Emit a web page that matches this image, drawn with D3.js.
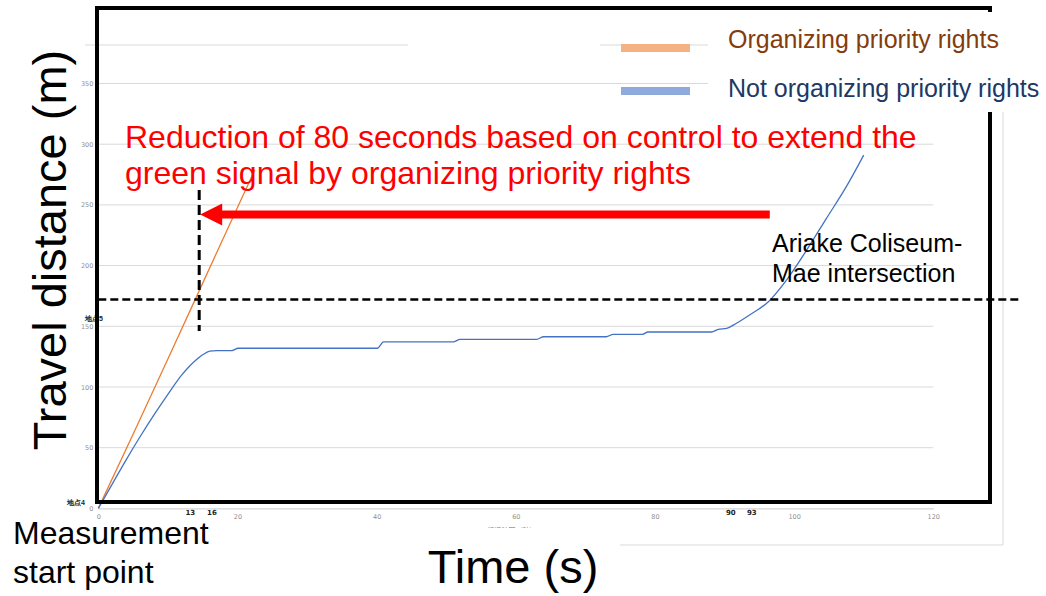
<!DOCTYPE html>
<html>
<head>
<meta charset="utf-8">
<script src="https://cdn.jsdelivr.net/npm/d3@7"></script>
<style>
  html, body { margin: 0; padding: 0; background: #fff; }
  svg { display: block; font-family: "Liberation Sans", Arial, sans-serif; }
</style>
</head>
<body>
<svg id="chart" width="1046" height="596"></svg>
<script>
// Elapsed time (s) vs. travel distance (m) for the two signal-control cases
const organizedSeries = [
  [0, 0], [5, 61], [10, 123], [14, 173], [18, 223], [22.5, 279]
];
const notOrganizedSeries = [
  [0, 0], [2, 20], [4, 40], [6, 59], [8, 77], [10, 94], [12, 110], [13, 116.5],
  [14, 122], [15, 126.5], [16, 129.5], [17, 130], [19.2, 130], [20.1, 131.9],
  [40.1, 131.9], [41.0, 137.1], [51.0, 137.1], [52.0, 139.3], [63.0, 139.3],
  [64.0, 141.4], [73.0, 141.4], [74.0, 143.4], [78.2, 143.4], [79.0, 145.3],
  [88.1, 145.3], [89.1, 147.5], [90.3, 148.3], [91.7, 152.5], [93.6, 159.3],
  [96.3, 170.3], [98.9, 188.1], [101.8, 212.8], [104.6, 238.5], [107.5, 265],
  [110, 291]
];
const xTicks = [0, 20, 40, 60, 80, 100, 120];
const yTicks = [0, 50, 100, 150, 200, 250, 300, 350];
const markedTimes = ["13", "16", "90", "93"];
const seriesNames = ["Organizing priority rights", "Not organizing priority rights"];
const intersectionDistance = 172;     // Ariake Coliseum-Mae intersection
const arrivalOrganized = 14.5;        // time the organized run passes the intersection
const arrivalNotOrganized = 96.5;     // start of the reduction arrow
const arrowDistance = 242;            // height at which the reduction arrow is drawn

const svg = d3.select("#chart");

const x = d3.scaleLinear().domain([0, 120]).range([98.3, 933.3]);
const y = d3.scaleLinear().domain([0, 350]).range([508.4, 83.5]);

// ---------- embedded spreadsheet chart ----------
const plot = svg.append("g");

// chart-area border (only the visible right/bottom edges)
plot.append("path")
  .attr("d", "M1003,112 V545 H620")
  .attr("fill", "none").attr("stroke", "#d9d9d9").attr("stroke-width", 1);

// top edge of the plot area
plot.append("line").attr("x1", 85).attr("x2", 408).attr("y1", 45).attr("y2", 45)
  .attr("stroke", "#d9d9d9").attr("stroke-width", 1);
plot.append("line").attr("x1", 600).attr("x2", 708).attr("y1", 45).attr("y2", 45)
  .attr("stroke", "#d9d9d9").attr("stroke-width", 1);

// horizontal gridlines
plot.append("g")
  .selectAll("line")
  .data(yTicks.filter(d => d > 0))
  .join("line")
  .attr("x1", x(0)).attr("x2", x(120))
  .attr("y1", d => y(d)).attr("y2", d => y(d))
  .attr("stroke", "#d9d9d9").attr("stroke-width", 1);

// x axis
const xAxis = d3.axisBottom(x).tickValues(xTicks).tickSize(0).tickPadding(6);
const gx = plot.append("g").attr("transform", `translate(0,${y(0)})`).call(xAxis);
gx.select(".domain").attr("stroke", "#c8c8c8").attr("stroke-width", 1);
gx.selectAll("text").attr("font-size", 6.5).attr("fill", "#909090")
  .attr("font-family", "DejaVu Sans, sans-serif");

// y axis
const yAxis = d3.axisLeft(y).tickValues(yTicks).tickSize(0).tickPadding(5);
const gy = plot.append("g").attr("transform", `translate(${x(0)},0)`).call(yAxis);
gy.select(".domain").remove();
gy.selectAll("text").attr("font-size", 6.5).attr("fill", "#909090")
  .attr("font-family", "DejaVu Sans, sans-serif");

// point labels on the distance axis
plot.append("text").attr("x", 67).attr("y", 505)
  .attr("font-size", 7).attr("font-weight", "bold").attr("fill", "#222")
  .text("地点4");
plot.append("text").attr("x", 85).attr("y", 321)
  .attr("font-size", 7).attr("font-weight", "bold").attr("fill", "#222")
  .text("地点5");

// marked times under the axis
const markOffsets = [1.5, 2.3, 6.3, 6.4];
plot.append("g").selectAll("text")
  .data(markedTimes)
  .join("text")
  .attr("x", (d, i) => x(+d) + markOffsets[i])
  .attr("y", 515)
  .attr("text-anchor", "middle")
  .attr("font-family", "DejaVu Sans, sans-serif")
  .attr("font-size", 7).attr("font-weight", "bold").attr("fill", "#222")
  .text(d => d);

// spreadsheet axis title (mostly hidden)
plot.append("text").attr("x", 512).attr("y", 533)
  .attr("text-anchor", "middle").attr("font-size", 7).attr("fill", "#777")
  .attr("font-family", "Noto Sans CJK JP, sans-serif")
  .text("経過時間（秒）");

// series lines
const line = d3.line().x(d => x(d[0])).y(d => y(d[1]));
plot.append("path").datum(organizedSeries)
  .attr("d", line.curve(d3.curveLinear))
  .attr("fill", "none").attr("stroke", "#ED7D31").attr("stroke-width", 1.3);
plot.append("path").datum(notOrganizedSeries)
  .attr("d", d3.line().x(d => x(d[0])).y(d => y(d[1])).curve(d3.curveMonotoneX))
  .attr("fill", "none").attr("stroke", "#4472C4").attr("stroke-width", 1.3);

// ---------- slide overlays ----------
// thick frame
svg.append("rect")
  .attr("x", 97).attr("y", 8).attr("width", 893).attr("height", 494)
  .attr("fill", "none").attr("stroke", "#000").attr("stroke-width", 4);

// white boxes behind the text blocks
svg.append("rect").attr("x", 0).attr("y", 528).attr("width", 620).attr("height", 68).attr("fill", "#fff");
svg.append("rect").attr("x", 708).attr("y", 12).attr("width", 338).attr("height", 100).attr("fill", "#fff");

// legend
const legendColors = ["#F4B183", "#8FAADC"];
const legendText = ["#843C0C", "#203864"];
const legend = svg.append("g");
legend.selectAll("rect").data(seriesNames).join("rect")
  .attr("x", 621).attr("y", (d, i) => 44 + i * 43)
  .attr("width", 69).attr("height", 8)
  .attr("fill", (d, i) => legendColors[i]);
legend.selectAll("text").data(seriesNames).join("text")
  .attr("x", 728).attr("y", (d, i) => 48 + i * 49)
  .attr("font-size", 25).attr("fill", (d, i) => legendText[i])
  .text(d => d);

// intersection line
svg.append("line")
  .attr("x1", x(0)).attr("x2", 1020)
  .attr("y1", y(intersectionDistance)).attr("y2", y(intersectionDistance))
  .attr("stroke", "#000").attr("stroke-width", 2.5).attr("stroke-dasharray", "8,4");

svg.append("line")
  .attr("x1", x(arrivalOrganized)).attr("x2", x(arrivalOrganized))
  .attr("y1", 190).attr("y2", 331)
  .attr("stroke", "#000").attr("stroke-width", 3).attr("stroke-dasharray", "10,5");

// reduction arrow
const ay = y(arrowDistance);
const tipX = x(arrivalOrganized) + 1;
svg.append("line")
  .attr("x1", x(arrivalNotOrganized)).attr("x2", tipX + 18)
  .attr("y1", ay).attr("y2", ay)
  .attr("stroke", "#FF0000").attr("stroke-width", 8);
svg.append("path")
  .attr("d", `M${tipX},${ay} L${tipX + 22},${ay - 11} L${tipX + 22},${ay + 11} Z`)
  .attr("fill", "#FF0000");

// annotation text
svg.append("text").attr("font-size", 32).attr("fill", "#FF0000")
  .selectAll("tspan")
  .data(["Reduction of 80 seconds based on control to extend the",
         "green signal by organizing priority rights"])
  .join("tspan")
  .attr("x", 125).attr("y", (d, i) => 148 + i * 36)
  .text(d => d);

svg.append("text").attr("font-size", 25).attr("fill", "#000")
  .selectAll("tspan")
  .data(["Ariake Coliseum-", "Mae intersection"])
  .join("tspan")
  .attr("x", 772).attr("y", (d, i) => 252 + i * 30)
  .text(d => d);

svg.append("text").attr("font-size", 32).attr("fill", "#000")
  .selectAll("tspan")
  .data(["Measurement", "start point"])
  .join("tspan")
  .attr("x", 13).attr("y", (d, i) => 544 + i * 39)
  .text(d => d);

// slide axis titles
svg.append("text")
  .attr("transform", "translate(66,250) rotate(-90)")
  .attr("text-anchor", "middle").attr("font-size", 47).attr("fill", "#000")
  .text("Travel distance (m)");

svg.append("text")
  .attr("x", 513).attr("y", 583)
  .attr("text-anchor", "middle").attr("font-size", 47).attr("fill", "#000")
  .text("Time (s)");
</script>
</body>
</html>
